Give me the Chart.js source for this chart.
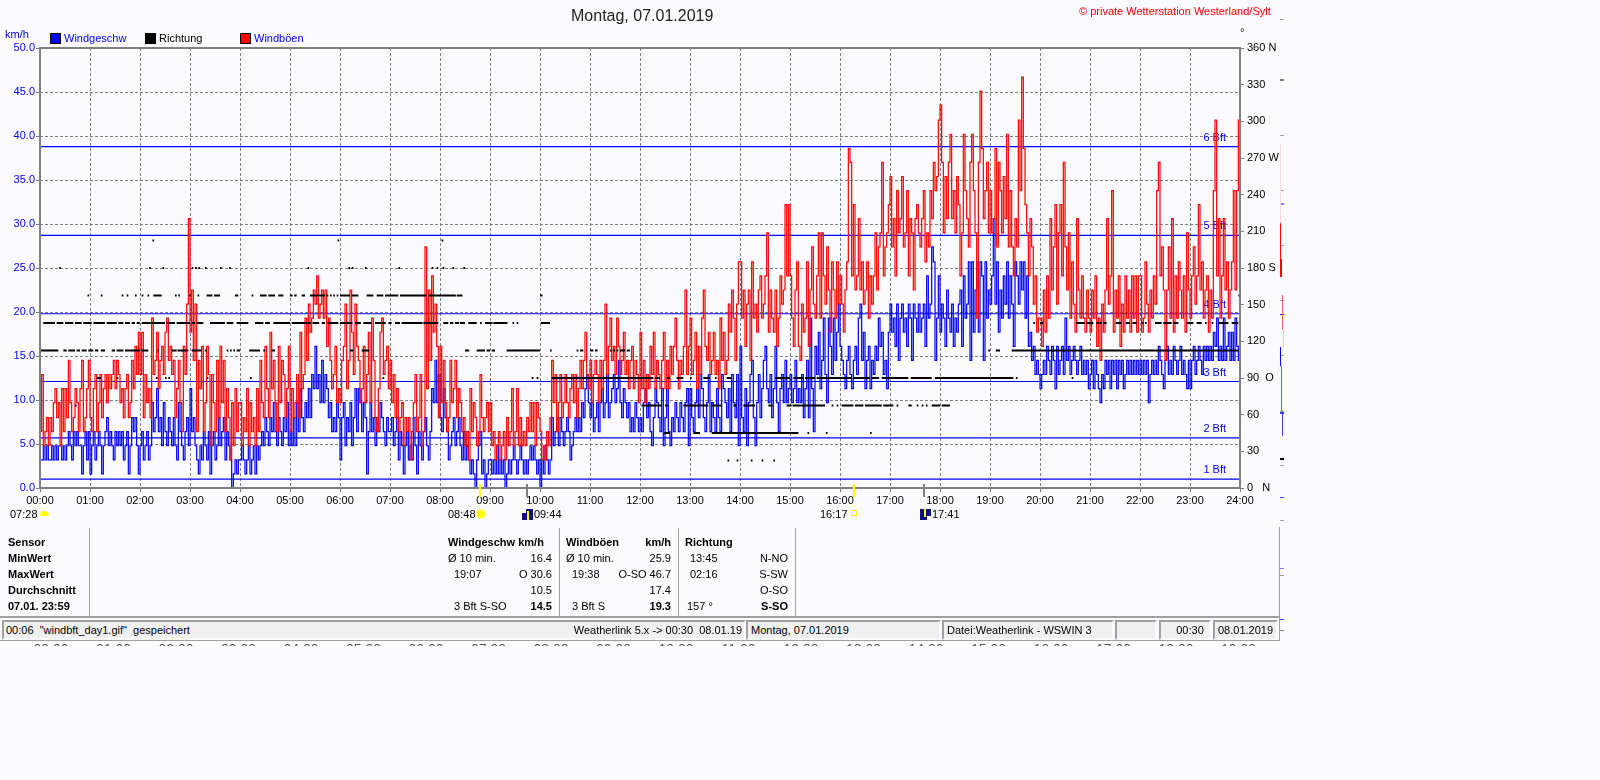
<!DOCTYPE html>
<html>
<head>
<meta charset="utf-8">
<title>Wind</title>
<script src="https://cdn.jsdelivr.net/npm/chart.js@4/dist/chart.umd.min.js"></script>
<style>
html, body { margin: 0; background: #fafaff; }
body { width: 1600px; height: 780px; position: relative; overflow: hidden; font: 11px "Liberation Sans", Arial, sans-serif; color: #000; }
canvas { position: absolute; left: 0; top: 0; }
.t { position: absolute; white-space: pre; line-height: 13px; }
.r { text-align: right; }
.b { font-weight: bold; }
.blue { color: #0000ff; }
.box { position: absolute; width: 9px; height: 9px; border: 1px solid #000; top: 33px; }
.sep { position: absolute; width: 1px; background: #a0a0a0; }
.panel { position: absolute; top: 620px; height: 20px; box-sizing: border-box; background: #f0f0f0; border: 2px solid; border-color: #a0a0a0 #fafaff #fafaff #a0a0a0; line-height: 16px; white-space: pre; overflow: hidden; padding-left: 3px; }
#clip { position: absolute; left: 0; top: 641px; width: 1280px; height: 5px; overflow: hidden; color: #555; font-size: 14px; }
#clip span { position: absolute; top: 0; transform: translateX(-50%); line-height: 16px; }
.m { position: absolute; }
</style>
</head>
<body>
<canvas id="chart" width="1600" height="780"></canvas>

<div class="t" style="left:571px;top:7px;font-size:16px;line-height:18px;color:#222">Montag, 07.01.2019</div>
<div class="t" style="left:1079px;top:5px;color:#ff0000">© private Wetterstation Westerland/Sylt</div>
<div class="t" style="left:1240px;top:26px">°</div>
<div class="t blue" style="left:5px;top:28px">km/h</div>
<div id="legend"></div>

<div id="events"></div>
<div id="table"></div>
<div class="sep" style="left:0;top:616px;width:1280px;height:2px"></div>
<div id="status"></div>
<div class="sep" style="left:0;top:640px;width:1280px;height:1px"></div>
<div class="sep" style="left:1279px;top:527px;height:114px"></div>
<div id="clip"></div>
<div id="strip"></div>

<script>
// one reading every 2 minutes, km/h
const stepMinutes = 2

const windSpeed = [
  3.2,3.2,4.8,3.2,4.8,3.2,3.2,4.8,3.2,4.8,3.2,4.8,4.8,3.2,4.8,3.2,4.8,6.4,4.8,3.2,6.4,4.8,6.4,4.8,4.8,1.6,4.8,6.4,3.2,6.4, // 00
  1.6,4.8,6.4,3.2,4.8,6.4,4.8,1.6,4.8,6.4,8,4.8,6.4,4.8,3.2,6.4,4.8,6.4,4.8,6.4,3.2,4.8,6.4,1.6,4.8,8,6.4,8,4.8,1.6,
  4.8,6.4,3.2,4.8,6.4,3.2,4.8,9.7,6.4,8,11.3,6.4,8,4.8,9.7,6.4,4.8,8,6.4,4.8,8,4.8,3.2,9.7,6.4,4.8,3.2,6.4,8,4.8,
  11.3,6.4,8,4.8,3.2,1.6,4.8,3.2,6.4,4.8,3.2,6.4,1.6,4.8,6.4,3.2,4.8,8,4.8,6.4,8,3.2,6.4,4.8,3.2,0,1.6,3.2,1.6,3.2,
  3.2,4.8,3.2,1.6,3.2,4.8,1.6,3.2,4.8,1.6,4.8,3.2,4.8,6.4,4.8,8,6.4,4.8,8,6.4,9.7,6.4,4.8,8,6.4,4.8,8,6.4,9.7,4.8,
  6.4,4.8,8,4.8,9.7,6.4,11.3,8,6.4,9.7,8,11.3,8,12.9,11.3,16.1,11.3,12.9,9.7,14.5,9.7,12.9,11.3,8,9.7,6.4,8,6.4,9.7,8,
  3.2,8,9.7,4.8,8,6.4,9.7,4.8,8,11.3,6.4,11.3,9.7,6.4,9.7,8,1.6,6.4,9.7,6.4,8,4.8,8,6.4,9.7,8,6.4,4.8,8,6.4,
  6.4,8,4.8,6.4,8,3.2,6.4,4.8,1.6,4.8,6.4,3.2,4.8,3.2,8,4.8,1.6,6.4,4.8,3.2,6.4,8,4.8,3.2,6.4,11.3,9.7,14.5,9.7,12.9,
  8,6.4,11.3,8,6.4,3.2,4.8,6.4,8,4.8,6.4,8,4.8,3.2,6.4,3.2,4.8,3.2,1.6,3.2,1.6,0,3.2,4.8,6.4,1.6,3.2,0,1.6,3.2, // 08
  3.2,1.6,3.2,1.6,4.8,1.6,3.2,1.6,3.2,0,1.6,3.2,1.6,3.2,4.8,3.2,1.6,3.2,4.8,3.2,1.6,3.2,1.6,3.2,4.8,3.2,4.8,3.2,1.6,3.2,
  0,3.2,1.6,4.8,3.2,1.6,3.2,8,4.8,6.4,8,4.8,8,6.4,4.8,6.4,8,6.4,3.2,4.8,6.4,8,6.4,8,6.4,9.7,8,11.3,12.9,9.7,
  8,9.7,6.4,8,9.7,6.4,9.7,11.3,8,9.7,12.9,8,9.7,11.3,12.9,9.7,11.3,14.5,9.7,8,11.3,9.7,8,9.7,6.4,8,6.4,9.7,8,6.4,
  8,6.4,9.7,11.3,8,9.7,6.4,4.8,8,11.3,9.7,8,6.4,11.3,4.8,8,11.3,6.4,4.8,8,6.4,9.7,8,6.4,9.7,8,6.4,9.7,11.3,4.8,
  11.3,8,6.4,9.7,11.3,8,12.9,11.3,8,6.4,9.7,12.9,6.4,9.7,8,6.4,11.3,8,6.4,12.9,11.3,9.7,8,11.3,6.4,12.9,9.7,8,12.9,4.8,
  16.1,8,6.4,11.3,4.8,9.7,12.9,14.5,8,4.8,9.7,12.9,8,11.3,14.5,16.1,11.3,9.7,12.9,8,11.3,16.1,9.7,6.4,11.3,12.9,9.7,14.5,9.7,11.3,
  12.9,9.7,11.3,14.5,9.7,11.3,9.7,12.9,8,11.3,14.5,8,19.3,11.3,6.4,16.1,12.9,17.7,11.3,14.5,19.3,12.9,9.7,19.3,16.1,12.9,19.3,14.5,17.7,20.9,
  16.1,14.5,12.9,11.3,14.5,16.1,12.9,11.3,14.5,16.1,12.9,19.3,20.9,14.5,17.7,11.3,14.5,16.1,11.3,14.5,12.9,16.1,14.5,19.3,16.1,17.7,12.9,14.5,11.3,17.7, // 16
  20.9,17.7,19.3,16.1,20.9,14.5,19.3,20.9,17.7,19.3,16.1,20.9,19.3,14.5,20.9,19.3,17.7,20.9,17.7,19.3,20.9,16.1,24.1,19.3,20.9,27.4,25.7,14.5,19.3,24.1,
  17.7,20.9,19.3,16.1,22.5,19.3,17.7,20.9,16.1,19.3,17.7,20.9,22.5,16.1,24.1,19.3,20.9,25.7,14.5,25.7,17.7,22.5,25.7,17.7,25.7,24.1,14.5,25.7,19.3,22.5,
  20.9,24.1,30.6,20.9,25.7,17.7,22.5,19.3,24.1,20.9,25.7,19.3,24.1,20.9,16.1,25.7,24.1,20.9,25.7,22.5,25.7,19.3,24.1,16.1,17.7,14.5,16.1,12.9,14.5,12.9,
  11.3,12.9,14.5,12.9,16.1,14.5,12.9,16.1,14.5,11.3,16.1,12.9,14.5,16.1,12.9,19.3,14.5,16.1,12.9,14.5,16.1,14.5,12.9,14.5,16.1,12.9,14.5,12.9,14.5,11.3,
  12.9,14.5,11.3,14.5,12.9,11.3,9.7,12.9,11.3,14.5,12.9,14.5,11.3,14.5,12.9,14.5,11.3,14.5,12.9,14.5,11.3,12.9,14.5,12.9,14.5,12.9,14.5,12.9,14.5,12.9,
  14.5,12.9,14.5,12.9,14.5,9.7,12.9,14.5,12.9,14.5,12.9,16.1,14.5,12.9,11.3,14.5,16.1,12.9,14.5,12.9,16.1,14.5,12.9,14.5,16.1,12.9,14.5,12.9,11.3,14.5,
  11.3,14.5,16.1,12.9,14.5,16.1,14.5,12.9,16.1,14.5,16.1,14.5,16.1,14.5,17.7,16.1,19.3,14.5,16.1,14.5,19.3,14.5,16.1,17.7,14.5,17.7,14.5,19.3,16.1,14.5,
  14.5
]

const gustSpeed = [
  6.4,12.9,4.8,6.4,8,4.8,8,6.4,9.7,11.3,8,9.7,4.8,11.3,6.4,11.3,8,14.5,9.7,6.4,8,11.3,9.7,6.4,11.3,14.5,6.4,8,11.3,14.5, // 00
  8,6.4,11.3,12.9,6.4,9.7,12.9,8,11.3,12.9,9.7,12.9,11.3,12.9,14.5,11.3,14.5,12.9,9.7,11.3,8,11.3,12.9,8,9.7,14.5,11.3,16.1,12.9,17.7,
  12.9,17.7,8,12.9,9.7,11.3,8,19.3,12.9,14.5,17.7,11.3,14.5,16.1,12.9,17.7,19.3,14.5,16.1,12.9,14.5,8,11.3,14.5,9.7,6.4,16.1,12.9,20.9,30.6,
  17.7,22.5,14.5,20.9,6.4,14.5,11.3,16.1,6.4,9.7,16.1,12.9,4.8,12.9,9.7,6.4,14.5,8,16.1,9.7,14.5,6.4,11.3,8,3.2,9.7,4.8,11.3,6.4,9.7,
  9.7,4.8,8,6.4,11.3,4.8,9.7,6.4,8,4.8,11.3,6.4,14.5,9.7,8,16.1,11.3,8,17.7,11.3,14.5,9.7,6.4,16.1,9.7,14.5,12.9,8,11.3,16.1,
  6.4,11.3,8,9.7,12.9,8,17.7,11.3,12.9,19.3,14.5,20.9,17.7,19.3,22.5,20.9,24.1,19.3,20.9,22.5,19.3,22.5,16.1,19.3,14.5,11.3,12.9,16.1,9.7,11.3,
  9.7,14.5,16.1,20.9,11.3,14.5,22.5,17.7,12.9,20.9,16.1,14.5,9.7,11.3,16.1,9.7,12.9,17.7,9.7,19.3,14.5,8,6.4,11.3,17.7,19.3,12.9,14.5,16.1,11.3,
  14.5,9.7,12.9,8,11.3,6.4,8,9.7,4.8,8,6.4,8,3.2,6.4,9.7,12.9,6.4,8,12.9,4.8,6.4,27.4,11.3,22.5,14.5,24.1,17.7,20.9,16.1,8,
  16.1,9.7,14.5,9.7,6.4,8,14.5,9.7,11.3,14.5,8,11.3,9.7,6.4,8,4.8,6.4,3.2,11.3,6.4,9.7,8,4.8,6.4,12.9,8,6.4,8,9.7,6.4, // 08
  9.7,4.8,6.4,3.2,4.8,6.4,3.2,4.8,6.4,3.2,8,4.8,6.4,11.3,4.8,6.4,11.3,4.8,8,4.8,6.4,4.8,8,6.4,9.7,6.4,9.7,4.8,9.7,8,
  6.4,3.2,4.8,3.2,6.4,4.8,8,14.5,9.7,12.9,6.4,9.7,12.9,8,9.7,12.9,9.7,8,11.3,12.9,9.7,12.9,8,11.3,14.5,11.3,14.5,17.7,12.9,11.3,
  14.5,9.7,12.9,14.5,12.9,9.7,14.5,11.3,14.5,20.9,12.9,16.1,19.3,14.5,16.1,12.9,19.3,16.1,12.9,14.5,17.7,12.9,14.5,11.3,14.5,16.1,11.3,14.5,12.9,9.7,
  17.7,11.3,14.5,9.7,12.9,11.3,16.1,12.9,17.7,11.3,14.5,12.9,11.3,14.5,17.7,11.3,14.5,11.3,16.1,12.9,16.1,19.3,14.5,11.3,14.5,12.9,16.1,22.5,12.9,16.1,
  19.3,12.9,14.5,17.7,11.3,16.1,12.9,19.3,22.5,16.1,14.5,17.7,12.9,14.5,17.7,12.9,14.5,11.3,19.3,14.5,17.7,12.9,14.5,20.9,17.7,22.5,19.3,14.5,20.9,25.7,
  25.7,19.3,22.5,16.1,20.9,22.5,14.5,25.7,19.3,20.9,17.7,22.5,24.1,19.3,20.9,24.1,29,17.7,22.5,19.3,17.7,22.5,16.1,19.3,24.1,20.9,22.5,32.2,24.1,32.2,
  24.1,19.3,16.1,22.5,25.7,16.1,14.5,20.9,17.7,19.3,25.7,16.1,22.5,27.4,20.9,19.3,24.1,29,19.3,29,24.1,20.9,27.4,22.5,17.7,25.7,22.5,19.3,25.7,20.9,
  24.1,20.9,17.7,22.5,25.7,38.6,37,24.1,32.2,22.5,24.1,30.6,22.5,25.7,20.9,22.5,25.7,19.3,24.1,20.9,24.1,29,22.5,27.4,29,37,24.1,27.4,29,32.2, // 16
  35.4,27.4,30.6,24.1,33.8,29,30.6,35.4,27.4,29,33.8,24.1,30.6,29,22.5,30.6,32.2,29,27.4,30.6,33.8,25.7,29,27.4,33.8,30.6,37,33.8,35.4,41.8,
  43.5,37,29,35.4,30.6,37,40.2,30.6,33.8,29,35.4,32.2,24.1,29,40.2,33.8,30.6,27.4,37,40.2,33.8,29,19.3,37,45.1,38.6,30.6,33.8,37,29,
  33.8,29,30.6,38.6,27.4,37,33.8,29,35.4,30.6,40.2,27.4,33.8,27.4,24.1,30.6,27.4,41.8,33.8,46.7,38.6,32.2,29,24.1,30.6,27.4,20.9,24.1,17.7,19.3,
  19.3,16.1,22.5,17.7,24.1,19.3,30.6,22.5,27.4,32.2,20.9,29,32.2,24.1,37,27.4,22.5,29,19.3,25.7,20.9,17.7,30.6,22.5,19.3,24.1,19.3,17.7,22.5,19.3,
  17.7,22.5,19.3,24.1,16.1,19.3,14.5,20.9,17.7,22.5,30.6,20.9,24.1,33.8,17.7,22.5,19.3,24.1,16.1,20.9,17.7,24.1,19.3,22.5,17.7,24.1,19.3,24.1,17.7,24.1,
  24.1,17.7,19.3,25.7,20.9,17.7,22.5,19.3,24.1,20.9,33.8,37,24.1,27.4,22.5,14.5,22.5,27.4,19.3,30.6,17.7,24.1,19.3,25.7,22.5,19.3,24.1,17.7,29,22.5,
  19.3,24.1,27.4,20.9,24.1,32.2,22.5,25.7,19.3,22.5,24.1,17.7,22.5,19.3,33.8,41.8,24.1,30.6,19.3,24.1,30.6,22.5,25.7,19.3,22.5,25.7,33.8,22.5,33.8,41.8,
  19.3
]

// wind direction: runs of minutes [from, to] at each compass level
const dir202 = [[135,137],[357,359],[482,484]]
const dir180 = [[23,25],[131,133],[147,149],[182,184],[186,188],[190,192],[198,200],[216,218],[227,229],[321,323],[370,372],[374,376],[390,392],[430,432],[470,472],[476,478],[483,485],[495,497],[508,510]]
const dir157 = [[57,59],[73,75],[98,100],[104,106],[114,116],[122,124],[129,131],[136,146],[162,164],[166,168],[179,181],[189,191],[200,207],[209,216],[234,238],[254,256],[264,272],[274,282],[286,292],[300,303],[305,308],[314,318],[324,342],[344,346],[348,350],[352,354],[356,358],[360,372],[374,382],[392,400],[404,412],[414,430],[432,464],[466,499],[500,507],[600,603],[1438,1440]]
const dir135 = [[4,18],[20,28],[30,40],[42,50],[52,62],[64,78],[80,92],[94,100],[102,108],[110,114],[116,120],[122,150],[152,162],[164,180],[182,186],[188,196],[204,222],[224,232],[236,250],[258,268],[270,276],[280,300],[302,325],[327,335],[338,342],[345,358],[360,375],[378,385],[388,398],[402,415],[418,422],[426,432],[434,459],[460,478],[484,490],[492,496],[498,503],[504,510],[514,524],[528,530],[534,543],[544,561],[567,569],[572,574],[601,612],[1192,1194],[1200,1204],[1243,1254],[1256,1264],[1268,1274],[1276,1280],[1291,1298],[1303,1308],[1311,1316],[1322,1324],[1326,1328],[1338,1346],[1348,1358],[1360,1366],[1376,1384],[1388,1394],[1398,1400],[1406,1408],[1414,1426],[1430,1438]]
const dir112 = [[0,22],[28,32],[34,42],[44,48],[50,56],[58,64],[66,70],[73,78],[86,90],[92,100],[102,120],[122,130],[141,143],[158,164],[165,178],[182,194],[198,200],[224,226],[228,230],[232,234],[236,240],[251,264],[268,270],[278,282],[372,376],[386,395],[510,515],[524,534],[536,540],[542,546],[560,600],[612,614],[644,646],[648,652],[660,664],[666,669],[684,686],[688,690],[692,694],[696,702],[704,708],[1138,1140],[1147,1152],[1166,1438]]
const dir90 = [[68,73],[92,94],[139,141],[150,152],[154,156],[200,202],[252,254],[411,413],[590,592],[596,598],[614,736],[738,744],[752,756],[764,772],[780,782],[796,804],[810,812],[824,830],[882,900],[904,916],[918,930],[932,974],[976,996],[998,1007],[1010,1042],[1045,1070],[1074,1168],[1171,1173],[1238,1240]]
const dir67 = [[42,44],[722,746],[750,754],[772,802],[806,818],[832,836],[844,858],[874,879],[896,902],[903,942],[950,952],[956,958],[962,976],[978,988],[990,1010],[1012,1024],[1028,1030],[1042,1046],[1052,1054],[1058,1060],[1063,1065],[1070,1080],[1082,1092]]
const dir45 = [[749,756],[784,792],[806,910],[921,923],[943,945],[996,998]]
const dir22 = [[825,827],[836,838],[853,855],[866,868],[880,882]]

const dirLevels = [202.5, 180, 157.5, 135, 112.5, 90, 67.5, 45, 22.5]
const dirRuns = [dir202, dir180, dir157, dir135, dir112, dir90, dir67, dir45, dir22]

const hourLabels = ['00:00','01:00','02:00','03:00','04:00','05:00','06:00','07:00','08:00','09:00','10:00','11:00','12:00','13:00','14:00','15:00','16:00','17:00','18:00','19:00','20:00','21:00','22:00','23:00','24:00']
const dirTicks = ['0   N','30','60','90  O','120','150','180 S','210','240','270 W','300','330','360 N']
const bftValues = [1.0, 5.7, 12.1, 19.8, 28.7, 38.8]
const bftLabels = ['1 Bft','2 Bft','3 Bft','4 Bft','5 Bft','6 Bft']

// sunrise, sunset etc marked on the time axis, minutes of the day
const tickMinutes = [528, 584, 977, 1061]
const tickColors = ['#ffff00','#808080','#ffff00','#808080']

const BLUE = '#0000ff', RED = '#ff0000', GREY = '#808080'

function series(values) {
  return values.map((v, i) => ({x: i * stepMinutes, y: v}))
}

function runsToPoints(runs, level) {
  const pts = []
  runs.forEach(r => {
    pts.push({x: r[0], y: level}, {x: r[1], y: level}, {x: r[1], y: null})
  })
  return pts
}

const datasets = []
dirRuns.forEach((runs, i) => {
  datasets.push({
    label: 'Richtung ' + dirLevels[i],
    data: runsToPoints(runs, dirLevels[i]),
    yAxisID: 'y2', borderColor: '#000', borderWidth: 2, borderCapStyle: 'butt',
    pointRadius: 0, spanGaps: false, order: 0
  })
})
datasets.push({label: 'Windböen', data: series(gustSpeed), yAxisID: 'y', borderColor: RED, borderWidth: 1.2, stepped: true, pointRadius: 0, order: 1})
datasets.push({label: 'Windgeschw', data: series(windSpeed), yAxisID: 'y', borderColor: BLUE, borderWidth: 1.2, stepped: true, pointRadius: 0, order: 2})
bftValues.forEach((v, i) => {
  datasets.push({label: bftLabels[i], data: [{x: 0, y: v}, {x: 1440, y: v}], yAxisID: 'y', borderColor: BLUE, borderWidth: 1.2, pointRadius: 0, order: 3})
})

const frame = {
  id: 'frame',
  beforeDatasetsDraw(chart) {
    const {ctx, scales} = chart
    ctx.save()
    ctx.fillStyle = BLUE
    ctx.font = '11px "Liberation Sans"'
    ctx.textAlign = 'right'
    ctx.textBaseline = 'middle'
    bftValues.forEach((v, i) => {
      ctx.fillText(bftLabels[i], chart.chartArea.right - 14, scales.y.getPixelForValue(v) - 9)
    })
    ctx.restore()
  },
  afterDraw(chart) {
    const {ctx, chartArea: a, scales} = chart
    ctx.save()
    ctx.strokeStyle = GREY
    ctx.lineWidth = 2
    ctx.strokeRect(a.left, a.top, a.right - a.left, a.bottom - a.top)
    tickMinutes.forEach((m, i) => {
      const x = Math.round(scales.x.getPixelForValue(m))
      ctx.strokeStyle = tickColors[i]
      ctx.beginPath()
      ctx.moveTo(x, a.bottom - 4)
      ctx.lineTo(x, a.bottom + 9)
      ctx.stroke()
    })
    ctx.restore()
  }
}

new Chart(document.getElementById('chart'), {
  type: 'line',
  data: {datasets},
  plugins: [frame],
  options: {
    responsive: false,
    animation: false,
    devicePixelRatio: 1,
    parsing: false,
    normalized: true,
    layout: {padding: {top: 48, left: 0, right: 0, bottom: 0}},
    plugins: {legend: {display: false}, tooltip: {enabled: false}, title: {display: false}},
    scales: {
      x: {
        type: 'linear', min: 0, max: 1440,
        afterFit: s => { s.height = 292 },
        afterBuildTicks: s => { s.ticks = hourLabels.map((_, i) => ({value: i * 60})) },
        border: {display: false, dash: [3, 2]},
        grid: {color: GREY, lineWidth: 1, tickLength: 4, tickColor: GREY, tickBorderDash: []},
        ticks: {callback: v => hourLabels[v / 60], autoSkip: false, maxRotation: 0, color: '#000', padding: 2, font: {family: 'Liberation Sans', size: 11}}
      },
      y: {
        position: 'left', min: 0, max: 50,
        afterFit: s => { s.width = 40 },
        border: {display: false, dash: [3, 2]},
        grid: {color: GREY, lineWidth: 1, tickLength: 4, tickColor: GREY, tickBorderDash: []},
        ticks: {stepSize: 5, callback: v => v.toFixed(1), color: BLUE, padding: 1, font: {family: 'Liberation Sans', size: 11}}
      },
      y2: {
        position: 'right', min: 0, max: 360,
        afterFit: s => { s.width = 360 },
        border: {display: false},
        grid: {drawOnChartArea: false, tickLength: 4, tickColor: GREY},
        ticks: {stepSize: 30, callback: v => dirTicks[v / 30], color: '#000', padding: 3, crossAlign: 'near', font: {family: 'Liberation Sans', size: 11}}
      }
    }
  }
})

// page furniture around the chart
function addText(parent, text, x, y, cls, right) {
  const d = document.createElement('div')
  d.className = 't ' + (cls || '') + (right ? ' r' : '')
  d.textContent = text
  d.style.top = y + 'px'
  if (right) d.style.right = (1600 - x) + 'px'
  else d.style.left = x + 'px'
  parent.appendChild(d)
}

const legendEl = document.getElementById('legend')
;[['Windgeschw', BLUE, 50, 'blue'], ['Richtung', '#000', 145, ''], ['Windböen', RED, 240, 'blue']].forEach(l => {
  const b = document.createElement('div')
  b.className = 'box'
  b.style.left = l[2] + 'px'
  b.style.background = l[1]
  legendEl.appendChild(b)
  addText(legendEl, l[0], l[2] + 14, 32, l[3])
})

const eventsEl = document.getElementById('events')
addText(eventsEl, '07:28', 10, 508)
addText(eventsEl, '08:48', 448, 508)
addText(eventsEl, '09:44', 534, 508)
addText(eventsEl, '16:17', 820, 508)
addText(eventsEl, '17:41', 932, 508)
const icons = [
  'left:40px;top:511px;width:9px;height:5px;background:#ffff00;border-radius:5px 5px 0 0',
  'left:477px;top:510px;width:8px;height:8px;background:#ffff00;border-radius:50%;box-shadow:0 0 2px 1px #ffff80',
  'left:522px;top:509px;width:11px;height:11px;background:#101080',
  'left:527px;top:511px;width:2px;height:9px;background:#ffff00',
  'left:522px;top:509px;width:4px;height:4px;background:#fff',
  'left:851px;top:510px;width:4px;height:4px;border:1px solid #ffff00',
  'left:920px;top:509px;width:11px;height:11px;background:#101080',
  'left:924px;top:509px;width:2px;height:8px;background:#ffff00',
  'left:927px;top:516px;width:4px;height:4px;background:#fff'
]
icons.forEach(css => {
  const d = document.createElement('div')
  d.className = 'm'
  d.style.cssText = css
  eventsEl.appendChild(d)
})

const tableEl = document.getElementById('table')
const rowY = [536, 552, 568, 584, 600]
;['Sensor','MinWert','MaxWert','Durchschnitt','07.01. 23:59'].forEach((s, i) => addText(tableEl, s, 8, rowY[i], 'b'))
addText(tableEl, 'Windgeschw km/h', 448, rowY[0], 'b')
addText(tableEl, 'Ø 10 min.', 448, rowY[1])
addText(tableEl, '16.4', 552, rowY[1], '', true)
addText(tableEl, '19:07', 454, rowY[2])
addText(tableEl, 'O 30.6', 552, rowY[2], '', true)
addText(tableEl, '10.5', 552, rowY[3], '', true)
addText(tableEl, '3 Bft S-SO', 454, rowY[4])
addText(tableEl, '14.5', 552, rowY[4], 'b', true)
addText(tableEl, 'Windböen', 566, rowY[0], 'b')
addText(tableEl, 'km/h', 671, rowY[0], 'b', true)
addText(tableEl, 'Ø 10 min.', 566, rowY[1])
addText(tableEl, '25.9', 671, rowY[1], '', true)
addText(tableEl, '19:38', 572, rowY[2])
addText(tableEl, 'O-SO 46.7', 671, rowY[2], '', true)
addText(tableEl, '17.4', 671, rowY[3], '', true)
addText(tableEl, '3 Bft S', 572, rowY[4])
addText(tableEl, '19.3', 671, rowY[4], 'b', true)
addText(tableEl, 'Richtung', 685, rowY[0], 'b')
addText(tableEl, '13:45', 690, rowY[1])
addText(tableEl, 'N-NO', 788, rowY[1], '', true)
addText(tableEl, '02:16', 690, rowY[2])
addText(tableEl, 'S-SW', 788, rowY[2], '', true)
addText(tableEl, 'O-SO', 788, rowY[3], '', true)
addText(tableEl, '157 °', 687, rowY[4])
addText(tableEl, 'S-SO', 788, rowY[4], 'b', true)
;[89, 559, 678, 795].forEach(x => {
  const d = document.createElement('div')
  d.className = 'sep'
  d.style.left = x + 'px'
  d.style.top = '528px'
  d.style.height = '88px'
  tableEl.appendChild(d)
})

const statusEl = document.getElementById('status')
;[[2, 744, ''], [746, 195, 'Montag, 07.01.2019'], [942, 172, 'Datei:Weatherlink - WSWIN 3'], [1115, 42, ''], [1159, 52, '    00:30'], [1213, 65, '08.01.2019']].forEach(p => {
  const d = document.createElement('div')
  d.className = 'panel'
  d.style.left = p[0] + 'px'
  d.style.width = p[1] + 'px'
  d.textContent = p[2]
  statusEl.appendChild(d)
})
addText(statusEl, '00:06  "windbft_day1.gif"  gespeichert', 6, 624)
addText(statusEl, 'Weatherlink 5.x -> 00:30  08.01.19', 742, 624, '', true)

// second, cut off time axis under the status bar
const clipEl = document.getElementById('clip')
hourLabels.slice(0, 20).forEach((h, i) => {
  const s = document.createElement('span')
  s.textContent = h
  s.style.left = (51 + i * 62.5) + 'px'
  clipEl.appendChild(s)
})

// leftover strip at the right edge of the window
const stripEl = document.getElementById('strip')
const stripMarks = [
  [1280,19,4,1,'#a0a0a0'],[1280,79,4,2,'#808080'],[1280,135,4,1,'#a0a0a0'],[1280,190,4,1,'#a0a0a0'],[1280,245,4,1,'#a0a0a0'],[1280,300,4,1,'#a0a0a0'],[1280,355,4,1,'#a0a0a0'],[1280,411,4,1,'#a0a0a0'],[1280,465,4,1,'#a0a0a0'],[1280,520,4,1,'#a0a0a0'],[1280,575,4,1,'#a0a0a0'],[1280,630,4,1,'#808080'],
  [1280,458,4,2,'#000'],[1280,203,4,2,'#8080ff'],[1280,314,4,1,'#0000ff'],[1280,412,4,2,'#4040ff'],[1280,497,4,1,'#4040ff'],[1280,568,4,1,'#8080ff'],[1280,619,4,1,'#4040ff'],
  [1280,144,1,79,'#ffd8d8'],[1280,223,1,54,'#ff0000'],[1281,259,1,18,'#ff0000'],[1282,295,1,35,'#ff6060'],[1283,330,1,17,'#ffc0c0'],[1280,347,1,19,'#0000ff'],[1281,366,1,45,'#6060ff'],[1282,411,1,25,'#4040ff']
]
stripMarks.forEach(m => {
  const d = document.createElement('div')
  d.className = 'm'
  d.style.cssText = 'left:' + m[0] + 'px;top:' + m[1] + 'px;width:' + m[2] + 'px;height:' + m[3] + 'px;background:' + m[4]
  stripEl.appendChild(d)
})
</script>
</body>
</html>
